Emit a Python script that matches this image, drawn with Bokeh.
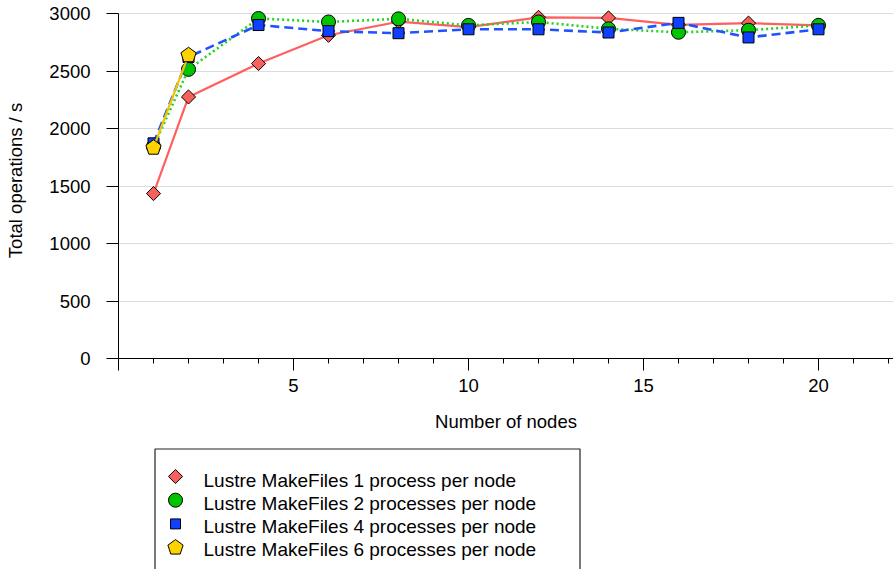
import math
from bokeh.plotting import figure
from bokeh.models import Range1d, SingleIntervalTicker, FixedTicker
from bokeh.layouts import column
from bokeh.embed import file_html
from bokeh.resources import INLINE
from bokeh.core.properties import value

# ---------------- data ----------------
nodes_1 = [1, 2, 4, 6, 8, 10, 12, 14, 16, 18, 20]
ops_1 = [1436, 2277, 2568, 2814, 2932, 2885, 2970, 2965, 2905, 2920, 2900]
nodes_2 = [1, 2, 4, 6, 8, 10, 12, 14, 16, 18, 20]
ops_2 = [1845, 2517, 2960, 2930, 2957, 2900, 2930, 2870, 2840, 2858, 2900]
nodes_4 = [1, 2, 4, 6, 8, 10, 12, 14, 16, 18, 20]
ops_4 = [1873, 2625, 2903, 2850, 2832, 2866, 2866, 2838, 2922, 2795, 2866]
nodes_6 = [1, 2]
ops_6 = [1835, 2640]

series_labels = [
    "Lustre MakeFiles 1 process per node",
    "Lustre MakeFiles 2 processes per node",
    "Lustre MakeFiles 4 processes per node",
    "Lustre MakeFiles 6 processes per node",
]
y_ticks = [0, 500, 1000, 1500, 2000, 2500, 3000]
x_label = "Number of nodes"
y_label = "Total operations / s"

# ---------------- styles ----------------
FONT = "Liberation Sans"
RED_LINE, RED_FILL = "#ff5f5f", "#f8605b"
GREEN_LINE, GREEN_FILL = "#1fd41f", "#00c400"
BLUE_LINE, BLUE_FILL = "#2152ff", "#1040ff"
YEL_LINE, YEL_FILL = "#f2c500", "#ffd200"

W = 893
H1 = 445
H2 = 569 - H1
LEFT, TOP, BOTTOM = 118, 2, 87
FW = W - LEFT
FH = H1 - TOP - BOTTOM
X_END = FW / 35.0
Y_END = FH / (344.6 / 3000.0)
PX_X = FW / X_END
PX_Y = FH / Y_END

p = figure(width=W, height=H1, x_range=Range1d(0, X_END), y_range=Range1d(0, Y_END),
           output_backend="svg", toolbar_location=None,
           min_border_left=LEFT, min_border_right=0, min_border_top=TOP,
           min_border_bottom=BOTTOM)
p.outline_line_color = None
p.background_fill_color = "white"
p.border_fill_color = "white"
p.xgrid.visible = False
p.ygrid.ticker = FixedTicker(ticks=y_ticks)
p.ygrid.grid_line_color = "#dcdcdc"
p.ygrid.grid_line_width = 1

ya = p.yaxis[0]
ya.ticker = FixedTicker(ticks=y_ticks)
ya.bounds = (0, 3000)
ya.major_tick_in = 0
ya.major_tick_out = 12
ya.minor_tick_out = 0
ya.major_label_standoff = 16
ya.axis_label = y_label
ya.axis_label_standoff = 20

xa = p.xaxis[0]
xa.ticker = SingleIntervalTicker(interval=5, num_minor_ticks=5)
xa.major_label_overrides = {0: ""}
xa.major_tick_in = 0
xa.major_tick_out = 12
xa.minor_tick_in = 0
xa.minor_tick_out = 5
xa.major_label_standoff = 8
xa.axis_label = x_label
xa.axis_label_standoff = 16

for ax in (xa, ya):
    ax.axis_line_color = "black"
    ax.major_tick_line_color = "black"
    ax.minor_tick_line_color = "black"
    ax.major_label_text_font = FONT
    ax.major_label_text_font_size = "18.5px"
    ax.major_label_text_color = "black"
    ax.axis_label_text_font = FONT
    ax.axis_label_text_font_size = "18.5px"
    ax.axis_label_text_font_style = "normal"
    ax.axis_label_text_color = "black"


def pentagon(cx, cy, r, sx, sy):
    xs, ys = [], []
    for k in range(5):
        a = math.radians(90 + 72 * k)
        xs.append(cx + r * math.cos(a) / sx)
        ys.append(cy + r * math.sin(a) / sy)
    return xs, ys


# series 1: red diamonds, solid
p.line(nodes_1, ops_1, line_color=RED_LINE, line_width=2.2)
p.scatter(nodes_1, ops_1, marker="square", angle=math.pi / 4, size=10,
          fill_color=RED_FILL, line_color="black", line_width=1)
# series 2: green circles, dotted
p.line(nodes_2, ops_2, line_color=GREEN_LINE, line_width=2.6, line_dash="2 3")
p.scatter(nodes_2, ops_2, marker="circle", size=14,
          fill_color=GREEN_FILL, line_color="black", line_width=1)
# series 4: blue squares, dashed
p.line(nodes_4, ops_4, line_color=BLUE_LINE, line_width=2.6, line_dash="9 5")
p.scatter(nodes_4, ops_4, marker="square", size=11,
          fill_color=BLUE_FILL, line_color="black", line_width=1)
# series 6: yellow pentagons
p.line(nodes_6, ops_6, line_color=YEL_LINE, line_width=2.2)
pxs, pys = [], []
for nx, oy in zip(nodes_6, ops_6):
    a, b = pentagon(nx, oy, 8, PX_X, PX_Y)
    pxs.append(a)
    pys.append(b)
p.patches(pxs, pys, fill_color=YEL_FILL, line_color="black", line_width=1)

# ---------------- legend panel (page-pixel coordinates) ----------------
# the column aligns this frame with the chart frame, so it starts at x=LEFT
q = figure(width=W, height=H2, x_range=Range1d(LEFT, W), y_range=Range1d(H2, 0),
           x_axis_type=None, y_axis_type=None, output_backend="svg",
           toolbar_location=None, min_border=0, min_border_left=LEFT,
           min_border_right=0)
q.outline_line_color = None
q.grid.visible = False
q.background_fill_color = "white"
q.border_fill_color = "white"

q.quad(left=[154.5], right=[579.5], top=[3.5], bottom=[H2 + 20],
       fill_color=None, line_color="#222222", line_width=1.2)

mx = 175
my = [31 + 23.7 * i for i in range(len(series_labels))]
ty = [34.5 + 23 * i for i in range(len(series_labels))]
q.scatter([mx], [my[0]], marker="square", angle=math.pi / 4, size=10,
          fill_color=RED_FILL, line_color="black", line_width=1)
q.scatter([mx], [my[1]], marker="circle", size=14,
          fill_color=GREEN_FILL, line_color="black", line_width=1)
q.scatter([mx], [my[2]], marker="square", size=10,
          fill_color=BLUE_FILL, line_color="black", line_width=1)
lx, ly = pentagon(mx, my[3], 8, 1, -1)
q.patch(lx, ly, fill_color=YEL_FILL, line_color="black", line_width=1)
q.text(x=[203] * len(series_labels), y=ty, text=series_labels,
       text_font=value(FONT), text_font_size="19px", text_color="black",
       text_baseline="middle", text_align="left")

layout = column(p, q, spacing=0)
open("out.html", "w").write(file_html(layout, INLINE))
